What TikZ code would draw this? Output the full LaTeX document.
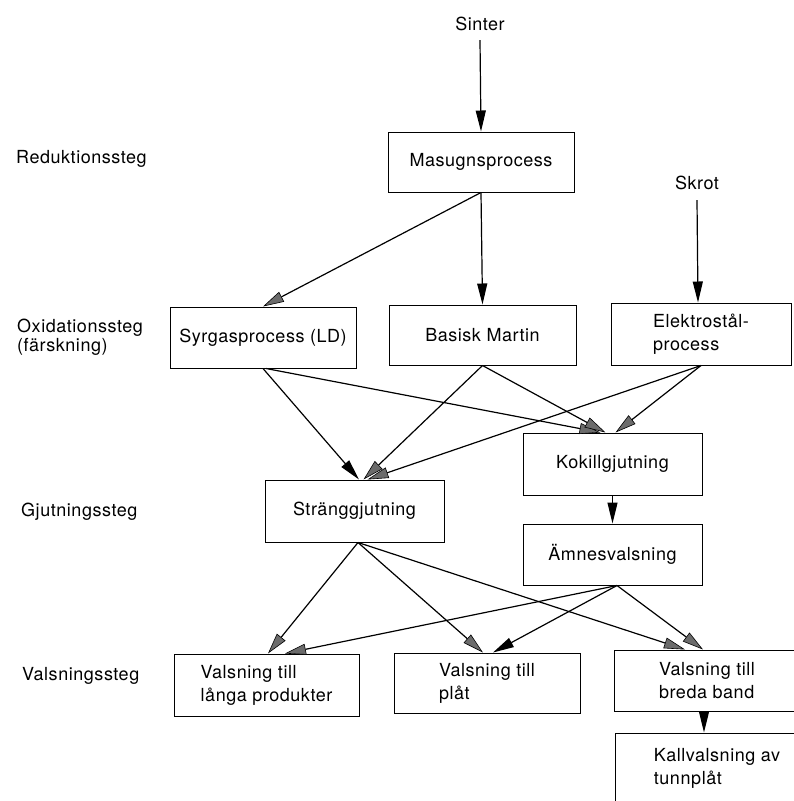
\documentclass[tikz,border=0pt]{standalone}
\usepackage{fontspec}
\setmainfont[LetterSpace=3]{TeX Gyre Heros}
\usetikzlibrary{arrows.meta}
\definecolor{headgray}{gray}{0.42}
\begin{document}
\begin{tikzpicture}[x=1pt,y=-1pt,
  box/.style={draw, line width=1pt, inner sep=0pt, align=left, font=\fontsize{18}{23}\selectfont},
  lbl/.style={inner sep=0pt, anchor=west, align=left, font=\fontsize{18}{19}\selectfont},
  src/.style={inner sep=0pt, font=\fontsize{18}{21}\selectfont},
  conn/.style={line width=1.2pt},
  arrB/.style={conn, -{Triangle[length=21pt,width=10pt]}},
  arrG/.style={conn, -{Triangle[length=21pt,width=11pt,fill=headgray,line width=0.6pt]}},
]
\useasboundingbox (0,0) rectangle (794,801);
\clip (0,0) rectangle (794,801);
\fill[white] (0,0) rectangle (794,801);

% stage labels
\node[lbl] (lred) at (16,159) {Reduktionssteg};
\node[lbl] (loxi) at (17,337.5) {Oxidationssteg\\(färskning)};
\node[lbl] (lgju) at (21,512) {Gjutningssteg};
\node[lbl] (lval) at (22,676) {Valsningssteg};

% sources
\node[src] (sin) at (480,24) {Sinter};
\node[src] (skr) at (697,183) {Skrot};

% boxes
\node[box, minimum width=186pt, minimum height=60pt] (mas) at (481,162) {Masugnsprocess};
\node[box, minimum width=186pt, minimum height=61pt] (syr) at (263,337.5) {Syrgasprocess (LD)};
\node[box, minimum width=187pt, minimum height=60pt] (bas) at (482.5,335) {Basisk Martin};
\node[box, minimum width=180pt, minimum height=62pt] (ele) at (701,334) {Elektrostål-\\process};
\node[box, minimum width=179pt, minimum height=62pt] (kok) at (612.5,464) {Kokillgjutning};
\node[box, minimum width=179pt, minimum height=62pt] (str) at (354.5,511) {Stränggjutning};
\node[box, minimum width=179pt, minimum height=61pt] (amn) at (612.5,554.5) {Ämnesvalsning};
\node[box, minimum width=185pt, minimum height=62pt] (lan) at (266.5,685) {Valsning till\\långa produkter};
\node[box, minimum width=186pt, minimum height=60pt] (pla) at (487,683) {Valsning till\\plåt};
\node[box, minimum width=186pt, minimum height=61pt] (bre) at (707,680.5) {Valsning till\\breda band};
\node[box, minimum width=204pt, minimum height=70pt] (kal) at (717,768) {Kallvalsning av\\tunnplåt};

% connectors
\draw[arrB] ([yshift=-9pt]sin.south) -- (mas.north);
\draw[arrG] (mas.south) -- (syr.north);
\draw[arrB] (mas.south) -- (bas.north);
\draw[arrB] ([yshift=-10pt]skr.south) -- ([xshift=-3pt]ele.north);

\draw[arrB] (syr.south) -- ([xshift=4.5pt]str.north);
\draw[arrG] ([xshift=3pt]syr.south) -- ([xshift=-12pt]kok.north);
\draw[arrG] (bas.south) -- ([xshift=9pt]str.north);
\draw[arrG] (bas.south) -- ([xshift=-7pt]kok.north);
\draw[arrG] (ele.south) -- ([xshift=13pt]str.north);
\draw[arrG] (ele.south) -- ([xshift=3pt]kok.north);

\draw[arrB] (kok.south) -- (amn.north);

\draw[arrG] ([xshift=3.5pt]str.south) -- ([xshift=1.5pt]lan.north);
\draw[arrG] ([xshift=3.5pt]str.south) -- ([xshift=-4pt]pla.north);
\draw[arrG] ([xshift=3.5pt]str.south) -- ([xshift=-22pt]bre.north);
\draw[arrG] ([xshift=4.5pt]amn.south) -- ([xshift=18.5pt]lan.north);
\draw[arrB] ([xshift=4.5pt]amn.south) -- ([xshift=6pt]pla.north);
\draw[arrG] ([xshift=4.5pt]amn.south) -- ([xshift=-4pt]bre.north);

\draw[arrB] ([xshift=-3pt]bre.south) -- ([xshift=-13pt]kal.north);
\end{tikzpicture}
\end{document}
